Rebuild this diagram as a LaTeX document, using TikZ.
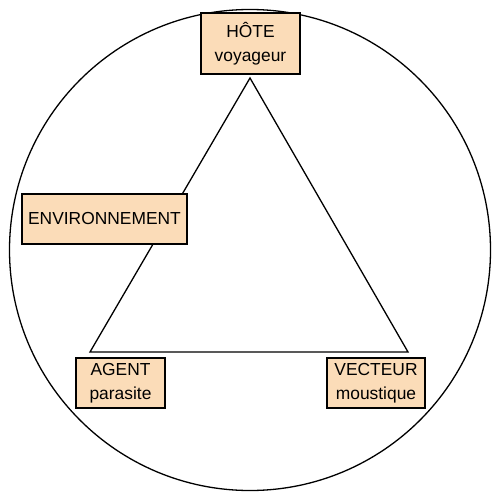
\documentclass[tikz,border=0pt]{standalone}
\usepackage{fontspec}
\setmainfont{Liberation Sans}
\definecolor{peach}{HTML}{FBDCB8}
\begin{document}
\begin{tikzpicture}[x=1pt,y=-1pt,
  box/.style={draw=black, line width=1.6pt, fill=peach, rectangle, align=center,
    inner sep=0pt, font=\fontsize{17.4}{23.5}\selectfont},
  edge/.style={line width=1.3pt, black}]
\useasboundingbox (0,0) rectangle (500,500);
\node[draw, line width=1.3pt, circle, minimum size=481pt, inner sep=0pt] (ring) at (250,250) {};
\coordinate (top) at (250,78);
\coordinate (bl) at (90,352);
\coordinate (br) at (408,352);
\draw[edge, line join=miter] (top) -- (bl) -- (br) -- cycle;
\node[box, minimum width=99pt, minimum height=61pt] (hote) at (250.5,43.5) {HÔTE\\voyageur};
\node[box, minimum width=165pt, minimum height=50pt] (env) at (104.5,219) {ENVIRONNEMENT};
\node[box, minimum width=89pt, minimum height=50pt] (agent) at (120.5,383) {AGENT\\parasite};
\node[box, minimum width=98pt, minimum height=50pt] (vect) at (376,383) {VECTEUR\\moustique};
\end{tikzpicture}
\end{document}
